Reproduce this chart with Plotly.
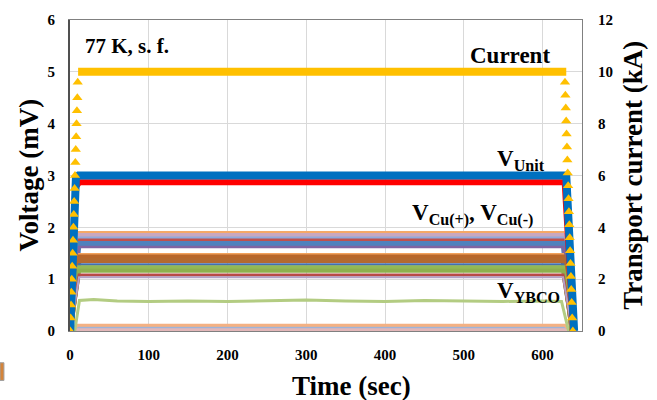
import plotly.graph_objects as go

FONT = "Liberation Serif, Times New Roman, serif"

# ---- transport current (kA, right axis) ----
cur_up_t = [0.3, 0.8, 1.3, 1.8, 2.3, 2.8, 3.3, 3.8, 4.3, 4.8, 5.3, 5.8, 6.3, 6.8, 7.3, 7.8, 8.3, 8.8, 9.3, 9.8]
cur_up_kA = [0.0, 0.5, 1.0, 1.5, 2.0, 2.5, 3.0, 3.5, 4.0, 4.5, 5.0, 5.5, 6.0, 6.5, 7.0, 7.5, 8.0, 8.5, 9.0, 9.6]
cur_flat_t = [10.3, 630.0]
cur_flat_kA = [10.0, 10.0]
cur_dn_t = [628.4, 628.9, 629.4, 629.9, 630.4, 630.9, 631.4, 631.9, 632.4, 632.9,
            633.4, 633.9, 634.4, 634.9, 635.4, 635.9, 636.4, 636.9, 637.5, 638.4]
cur_dn_kA = [9.6, 9.1, 8.6, 8.1, 7.6, 7.1, 6.6, 6.1, 5.6, 5.1,
             4.6, 4.1, 3.6, 3.1, 2.6, 2.1, 1.6, 1.1, 0.5, 0.0]

# ---- unit voltage (mV) ----
unit_t = [0.3, 4.0, 7.5, 11.0, 630.0, 640.0]
unit_mV = [0.0, 1.7, 2.95, 3.0, 3.0, 0.0]
unit2_t = [0.5, 4.0, 7.5, 12.0, 150.0, 165.0, 180.0, 420.0, 432.0, 445.0, 628.0, 639.0]
unit2_mV = [0.0, 1.5, 2.78, 2.87, 2.87, 2.855, 2.87, 2.87, 2.86, 2.87, 2.87, 0.0]

# ---- copper-section voltages (mV) ----
cu_ramp_t = [0.5, 11.5, 626.0, 637.5]
cu_levels = [1.90, 1.85, 1.80, 1.755, 1.69, 1.62, 1.485, 1.43, 1.36, 1.285, 1.23, 1.16, 1.08, 1.035]
cu_colors = ["#F5A867", "#C9A7BF", "#8FAADC", "#C0504D", "#4F81BD", "#8064A2", "#F2A35E",
             "#B8672B", "#B36A30", "#4470B0", "#93B955", "#8DB04E", "#B84A47", "#B3A2C7"]
cu_widths = [3, 4, 2.5, 3, 5, 2.5, 2, 5, 5, 2.5, 4, 4, 3, 2]

# ---- YBCO-section voltages (mV) ----
ybco1_t = [6.0, 12.0, 30.0, 60.0, 100.0, 150.0, 200.0, 250.0, 300.0, 350.0, 400.0, 450.0, 500.0, 550.0, 600.0, 624.0, 633.0]
ybco1_mV = [0.0, 0.59, 0.61, 0.58, 0.57, 0.58, 0.57, 0.59, 0.60, 0.58, 0.57, 0.59, 0.58, 0.57, 0.58, 0.57, 0.0]
ybco2_t = [4.0, 9.0, 628.0, 636.0]
ybco2_mV = [0.0, 0.11, 0.11, 0.0]
ybco3_t = [2.0, 8.0, 630.0, 637.0]
ybco3_mV = [0.0, 0.07, 0.07, 0.0]
ybco4_t = [0.0, 639.0]
ybco4_mV = [0.02, 0.02]

fig = go.Figure()

# YBCO traces
fig.add_trace(go.Scatter(x=ybco4_t, y=ybco4_mV, mode="lines", line=dict(color="#E3B7B9", width=8)))
fig.add_trace(go.Scatter(x=ybco3_t, y=ybco3_mV, mode="lines", line=dict(color="#9DB4DA", width=2)))
fig.add_trace(go.Scatter(x=ybco2_t, y=ybco2_mV, mode="lines", line=dict(color="#F4B183", width=3)))
fig.add_trace(go.Scatter(x=ybco1_t, y=ybco1_mV, mode="lines", line=dict(color="#B3CC82", width=3)))

# Copper traces
for lvl, col, w in zip(cu_levels, cu_colors, cu_widths):
    fig.add_trace(go.Scatter(x=cu_ramp_t, y=[0.0, lvl, lvl, 0.0], mode="lines",
                             line=dict(color=col, width=w)))

# Unit voltage traces
fig.add_trace(go.Scatter(x=unit2_t, y=unit2_mV, mode="lines", line=dict(color="#FF0000", width=6)))
fig.add_trace(go.Scatter(x=unit_t, y=unit_mV, mode="lines", line=dict(color="#0070C0", width=8)))

# Current
fig.add_trace(go.Scatter(x=cur_flat_t, y=cur_flat_kA, mode="lines", yaxis="y2",
                         line=dict(color="#FFC000", width=8)))
fig.add_trace(go.Scatter(x=cur_up_t + cur_dn_t, y=cur_up_kA + cur_dn_kA, mode="markers", yaxis="y2",
                         marker=dict(symbol="triangle-up", size=9, color="#FFC000")))

tickfont = dict(family=FONT, size=15, color="black", weight="bold")

fig.update_layout(
    width=657, height=400,
    margin=dict(l=70, r=75, t=16, b=69),
    paper_bgcolor="white", plot_bgcolor="white",
    showlegend=False,
    font=dict(family=FONT, color="black"),
    xaxis=dict(range=[0, 650], dtick=100, tick0=0, showgrid=True, gridcolor="#D9D9D9", gridwidth=1,
               showline=True, linecolor="#808080", linewidth=1, mirror=True, zeroline=False,
               tickfont=tickfont, ticklabelstandoff=10),
    yaxis=dict(range=[0, 6], dtick=1, showgrid=True, gridcolor="#D9D9D9", gridwidth=1,
               showline=True, linecolor="#505050", linewidth=2, zeroline=False,
               tickfont=tickfont, ticklabelstandoff=10),
    yaxis2=dict(range=[0, 12], dtick=2, overlaying="y", side="right", showgrid=False,
                showline=True, linecolor="#808080", linewidth=1, zeroline=False,
                tickfont=tickfont, ticklabelstandoff=12),
)

title_font = dict(family=FONT, size=27, color="black", weight="bold")
label_font = dict(family=FONT, size=23, color="black", weight="bold")

annotations = [
    dict(text="Time (sec)", xref="paper", yref="paper", x=0.549, y=-0.178,
         showarrow=False, font=title_font, xanchor="center", yanchor="middle"),
    dict(text="Voltage (mV)", xref="paper", yref="paper", x=-0.082, y=0.5, textangle=-90,
         showarrow=False, font=title_font, xanchor="center", yanchor="middle"),
    dict(text="Transport current (kA)", xref="paper", yref="paper", x=1.098, y=0.5, textangle=-90,
         showarrow=False, font=title_font, xanchor="center", yanchor="middle"),
    dict(text="77 K, s. f.", x=16.5, y=5.5, showarrow=False, xanchor="left", yanchor="middle",
         font=dict(family=FONT, size=21, color="black", weight="bold")),
    dict(text="Current", x=558.6, y=5.31, showarrow=False, xanchor="center", yanchor="middle",
         font=label_font),
    dict(text="V<sub>Unit</sub>", x=539.5, y=3.3, showarrow=False, xanchor="left", yanchor="middle",
         font=label_font),
    dict(text="V<sub>Cu(+)</sub>, V<sub>Cu(-)</sub>", x=431.6, y=2.25, showarrow=False,
         xanchor="left", yanchor="middle", font=label_font),
    dict(text="V<sub>YBCO</sub>", x=539.5, y=0.76, showarrow=False, xanchor="left", yanchor="middle",
         font=label_font),
]
fig.update_layout(annotations=annotations)

# cut-off legend key at the lower-left edge
fig.add_shape(type="rect", xref="paper", yref="paper", x0=-0.1367, x1=-0.129, y0=-0.159, y1=-0.102,
              fillcolor="#D4843A", line=dict(color="#A0A0A0", width=1))

fig.write_html("out.html")
